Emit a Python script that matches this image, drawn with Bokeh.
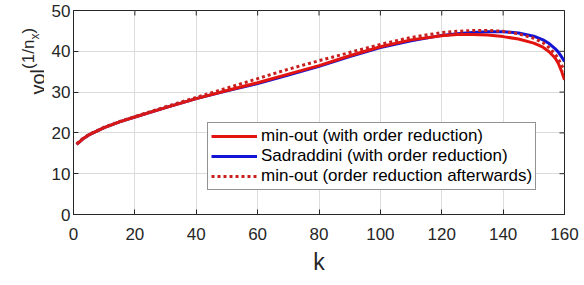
import math
from bokeh.plotting import figure
from bokeh.layouts import row
from bokeh.models import Legend, LegendItem, Range1d, FixedTicker, Label
from bokeh.embed import file_html
from bokeh.resources import INLINE

# ---- data ----
k = [1, 3, 5, 10, 15, 20, 30, 40, 50, 60, 70, 80, 90, 100, 110, 120, 125, 130,
     135, 140, 145, 150, 153, 155, 157, 158, 159, 160]
minout_with = [17.2, 18.5, 19.5, 21.3, 22.7, 23.9, 26.2, 28.4, 30.4, 32.3, 34.4,
               36.5, 38.9, 41.1, 42.8, 43.8, 44.1, 44.1, 44.0, 43.6, 43.0, 42.0,
               41.0, 39.9, 38.3, 37.0, 35.2, 33.0]
sadraddini = [17.2, 18.5, 19.5, 21.3, 22.7, 23.9, 26.2, 28.4, 30.3, 32.1, 34.2,
              36.3, 38.7, 40.9, 42.6, 43.9, 44.3, 44.6, 44.8, 44.8, 44.5, 43.7,
              42.8, 41.9, 40.6, 39.8, 38.7, 37.5]
minout_after = [17.3, 18.6, 19.6, 21.4, 22.8, 24.0, 26.4, 28.7, 31.0, 33.3, 35.6,
                37.7, 39.7, 41.7, 43.4, 44.6, 44.9, 45.1, 45.1, 44.9, 44.3, 43.2,
                42.1, 40.9, 39.3, 38.1, 36.7, 35.2]
labels = ["min-out (with order reduction)",
          "Sadraddini (with order reduction)",
          "min-out (order reduction afterwards)"]
x_ticks = [0, 20, 40, 60, 80, 100, 120, 140, 160]
y_ticks = [0, 10, 20, 30, 40, 50]
X_MIN, X_MAX, Y_MIN, Y_MAX = 0, 160, 0, 50

FONT = "Liberation Sans"
AX = "#262626"

H = 284
LW = 44            # width of the side strip that carries the y-axis title
W = 584 - LW
BL, BR, BT, BB = 73 - LW, 20, 10, 70

# ---------------- main plot ----------------
p = figure(width=W, height=H, x_range=Range1d(X_MIN, X_MAX),
           y_range=Range1d(Y_MIN, Y_MAX),
           output_backend="svg", toolbar_location=None,
           min_border_left=BL, min_border_right=BR, min_border_top=BT,
           min_border_bottom=BB)
p.background_fill_color = "white"
p.outline_line_color = AX
p.outline_line_width = 1

for ax in (p.xaxis[0], p.yaxis[0]):
    ax.axis_line_color = AX
    ax.major_tick_line_color = AX
    ax.major_tick_in = 5
    ax.major_tick_out = 0
    ax.minor_tick_line_color = None
    ax.major_label_text_font = FONT
    ax.major_label_text_font_size = "17px"
    ax.major_label_text_color = AX

p.xaxis.ticker = FixedTicker(ticks=x_ticks)
p.yaxis.ticker = FixedTicker(ticks=y_ticks)
p.xaxis.major_label_standoff = 13
p.yaxis.major_label_standoff = 3
p.xaxis.axis_label = "k"
p.xaxis.axis_label_text_font = FONT
p.xaxis.axis_label_text_font_size = "23px"
p.xaxis.axis_label_text_font_style = "normal"
p.xaxis.axis_label_text_color = AX
p.xaxis.axis_label_standoff = 6

p.xgrid.ticker = FixedTicker(ticks=x_ticks)
p.ygrid.ticker = FixedTicker(ticks=y_ticks)
p.grid.grid_line_color = "#dcdcdc"

# inward ticks on the top and right edges of the box (clipped to the frame)
p.scatter([X_MAX] * len(y_ticks), y_ticks, marker="dash", size=10,
          line_color=AX, line_width=1)
p.scatter(x_ticks, [Y_MAX] * len(x_ticks), marker="dash", size=10, angle=math.pi / 2,
          line_color=AX, line_width=1)

RED = "#e3140f"
BLUE = "#1414d4"
DRED = "#c8201f"

r_blue = p.line(k, sadraddini, line_color=BLUE, line_width=3)
r_red = p.line(k, minout_with, line_color=RED, line_width=3)
r_dot = p.line(k, minout_after, line_color=DRED, line_width=3, line_dash="3 3")

legend = Legend(items=[LegendItem(label=labels[0], renderers=[r_red]),
                       LegendItem(label=labels[1], renderers=[r_blue]),
                       LegendItem(label=labels[2], renderers=[r_dot])],
                location=(134, 24))
legend.label_text_font = FONT
legend.label_text_font_size = "17px"
legend.label_text_color = "black"
legend.label_height = 20
legend.glyph_height = 20
legend.glyph_width = 46
legend.label_standoff = 4
legend.spacing = 0
legend.padding = 3
legend.margin = 0
legend.border_line_color = AX
legend.border_line_width = 1
legend.background_fill_color = "white"
legend.background_fill_alpha = 1.0
p.add_layout(legend)

# ---------------- y-axis title strip: vol^(1/n_x) ----------------
s = figure(width=LW, height=H, x_range=Range1d(0, LW), y_range=Range1d(0, H),
           output_backend="svg", toolbar_location=None,
           x_axis_type=None, y_axis_type=None, min_border=0)
s.outline_line_color = None
s.grid.visible = False
s.background_fill_color = "white"
# (text, baseline x in px, start height in px from bottom, font size)
parts = [("vol", 37, 120, "20px"),
         ("(1/n", 28, 145.6, "17px"),
         ("x", 34, 174.9, "12px"),
         (")", 28, 180.9, "17px")]
for txt, xx, yy, fs in parts:
    s.add_layout(Label(x=xx, y=yy, x_units="screen", y_units="screen", text=txt,
                       angle=math.pi / 2, angle_units="rad", text_font=FONT,
                       text_font_size=fs, text_color=AX, text_align="left",
                       text_baseline="alphabetic"))

layout = row(s, p, spacing=0)
open("out.html", "w").write(file_html(layout, INLINE))
